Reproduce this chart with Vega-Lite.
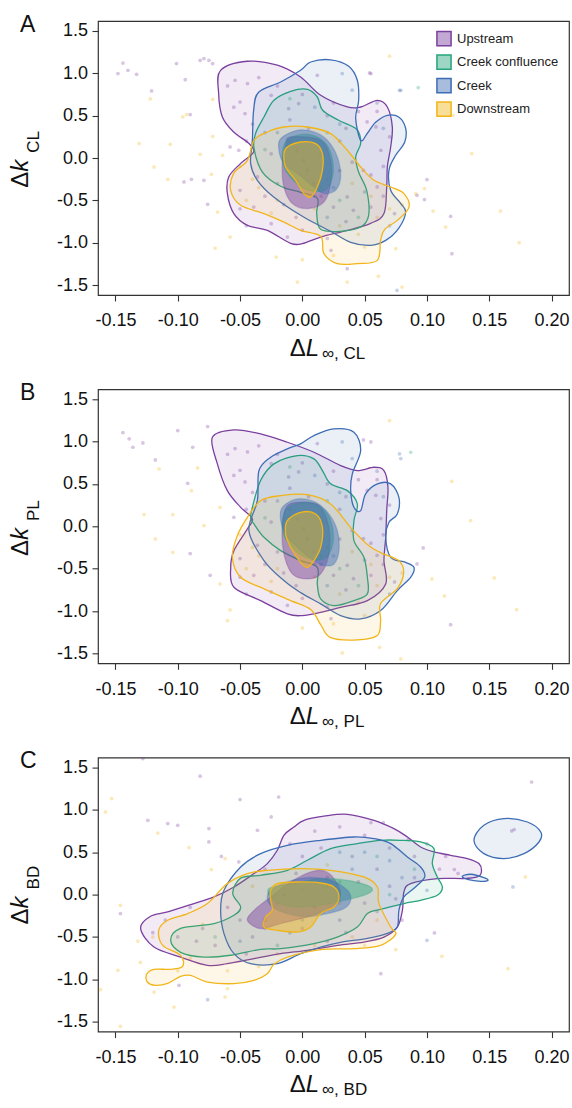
{
"$schema": "https://vega.github.io/schema/vega-lite/v6.json",
"background": "white",
"padding": {"left": 8, "top": 13, "right": 0, "bottom": 0},
"config": {
 "font": "Liberation Sans",
 "view": {"stroke": "#333", "strokeWidth": 1.2},
 "axis": {"grid": false, "domain": false, "tickColor": "#333", "tickWidth": 1.1, "tickSize": 6, "labelFontSize": 18, "labelColor": "#111", "labelFont": "Liberation Sans", "titleFont": "Liberation Sans", "titleColor": "#111", "titleFontWeight": "normal", "labelFlush": false, "labelOverlap": false},
 "axisX": {"labelPadding": 10.7},
 "axisY": {"labelPadding": 4.4},
 "title": {"fontSize": 23, "fontWeight": "normal", "anchor": "start", "frame": "group", "color": "#111", "font": "Liberation Sans"}
},
"datasets": {
"cA": [
{"s":"1Uo","g":"U","l":"o","x":-0.0656,"y":1.035},{"s":"1Uo","g":"U","l":"o","x":-0.0441,"y":1.142},{"s":"1Uo","g":"U","l":"o","x":-0.0201,"y":1.095},{"s":"1Uo","g":"U","l":"o","x":-0.0014,"y":0.956},{"s":"1Uo","g":"U","l":"o","x":0.0147,"y":0.74},{"s":"1Uo","g":"U","l":"o","x":0.0361,"y":0.602},{"s":"1Uo","g":"U","l":"o","x":0.0468,"y":0.602},{"s":"1Uo","g":"U","l":"o","x":0.0602,"y":0.681},{"s":"1Uo","g":"U","l":"o","x":0.0682,"y":0.602},{"s":"1Uo","g":"U","l":"o","x":0.0722,"y":0.366},{"s":"1Uo","g":"U","l":"o","x":0.0709,"y":0.13},{"s":"1Uo","g":"U","l":"o","x":0.0682,"y":-0.106},{"s":"1Uo","g":"U","l":"o","x":0.0677,"y":-0.342},{"s":"1Uo","g":"U","l":"o","x":0.0655,"y":-0.656},{"s":"1Uo","g":"U","l":"o","x":0.0548,"y":-0.771},{"s":"1Uo","g":"U","l":"o","x":0.0361,"y":-0.854},{"s":"1Uo","g":"U","l":"o","x":0.0147,"y":-0.933},{"s":"1Uo","g":"U","l":"o","x":0.0,"y":-1.011},{"s":"1Uo","g":"U","l":"o","x":-0.0094,"y":-1.007},{"s":"1Uo","g":"U","l":"o","x":-0.0281,"y":-0.854},{"s":"1Uo","g":"U","l":"o","x":-0.0441,"y":-0.795},{"s":"1Uo","g":"U","l":"o","x":-0.0551,"y":-0.653},{"s":"1Uo","g":"U","l":"o","x":-0.0602,"y":-0.417},{"s":"1Uo","g":"U","l":"o","x":-0.0591,"y":-0.224},{"s":"1Uo","g":"U","l":"o","x":-0.0495,"y":-0.063},{"s":"1Uo","g":"U","l":"o","x":-0.0391,"y":0.071},{"s":"1Uo","g":"U","l":"o","x":-0.0431,"y":0.174},{"s":"1Uo","g":"U","l":"o","x":-0.0551,"y":0.307},{"s":"1Uo","g":"U","l":"o","x":-0.0642,"y":0.484},{"s":"1Uo","g":"U","l":"o","x":-0.0672,"y":0.764},
{"s":"2Co","g":"CC","l":"o","x":-0.0388,"y":0.115},{"s":"2Co","g":"CC","l":"o","x":-0.0375,"y":0.292},{"s":"2Co","g":"CC","l":"o","x":-0.0308,"y":0.484},{"s":"2Co","g":"CC","l":"o","x":-0.0228,"y":0.681},{"s":"2Co","g":"CC","l":"o","x":-0.0094,"y":0.787},{"s":"2Co","g":"CC","l":"o","x":0.004,"y":0.811},{"s":"2Co","g":"CC","l":"o","x":0.012,"y":0.72},{"s":"2Co","g":"CC","l":"o","x":0.0163,"y":0.563},{"s":"2Co","g":"CC","l":"o","x":0.0291,"y":0.445},{"s":"2Co","g":"CC","l":"o","x":0.0436,"y":0.339},{"s":"2Co","g":"CC","l":"o","x":0.0468,"y":0.174},{"s":"2Co","g":"CC","l":"o","x":0.0428,"y":0.012},{"s":"2Co","g":"CC","l":"o","x":0.0452,"y":-0.169},{"s":"2Co","g":"CC","l":"o","x":0.0516,"y":-0.381},{"s":"2Co","g":"CC","l":"o","x":0.0532,"y":-0.677},{"s":"2Co","g":"CC","l":"o","x":0.0468,"y":-0.815},{"s":"2Co","g":"CC","l":"o","x":0.0307,"y":-0.865},{"s":"2Co","g":"CC","l":"o","x":0.0147,"y":-0.842},{"s":"2Co","g":"CC","l":"o","x":0.0115,"y":-0.653},{"s":"2Co","g":"CC","l":"o","x":0.012,"y":-0.476},{"s":"2Co","g":"CC","l":"o","x":-0.0014,"y":-0.405},{"s":"2Co","g":"CC","l":"o","x":-0.0174,"y":-0.334},{"s":"2Co","g":"CC","l":"o","x":-0.0319,"y":-0.169},
{"s":"3Bo","g":"C","l":"o","x":-0.0014,"y":1.035},{"s":"3Bo","g":"C","l":"o","x":0.0067,"y":1.133},{"s":"3Bo","g":"C","l":"o","x":0.0227,"y":1.159},{"s":"3Bo","g":"C","l":"o","x":0.0372,"y":1.083},{"s":"3Bo","g":"C","l":"o","x":0.0441,"y":0.917},{"s":"3Bo","g":"C","l":"o","x":0.0452,"y":0.681},{"s":"3Bo","g":"C","l":"o","x":0.0428,"y":0.469},{"s":"3Bo","g":"C","l":"o","x":0.0468,"y":0.209},{"s":"3Bo","g":"C","l":"o","x":0.0522,"y":0.292},{"s":"3Bo","g":"C","l":"o","x":0.0588,"y":0.421},{"s":"3Bo","g":"C","l":"o","x":0.0682,"y":0.504},{"s":"3Bo","g":"C","l":"o","x":0.0773,"y":0.484},{"s":"3Bo","g":"C","l":"o","x":0.0829,"y":0.351},{"s":"3Bo","g":"C","l":"o","x":0.0821,"y":0.185},{"s":"3Bo","g":"C","l":"o","x":0.0749,"y":0.032},{"s":"3Bo","g":"C","l":"o","x":0.0695,"y":-0.145},{"s":"3Bo","g":"C","l":"o","x":0.0709,"y":-0.381},{"s":"3Bo","g":"C","l":"o","x":0.0789,"y":-0.535},{"s":"3Bo","g":"C","l":"o","x":0.0829,"y":-0.641},{"s":"3Bo","g":"C","l":"o","x":0.0773,"y":-0.83},{"s":"3Bo","g":"C","l":"o","x":0.0669,"y":-0.972},{"s":"3Bo","g":"C","l":"o","x":0.0548,"y":-1.031},{"s":"3Bo","g":"C","l":"o","x":0.0388,"y":-0.995},{"s":"3Bo","g":"C","l":"o","x":0.0227,"y":-0.865},{"s":"3Bo","g":"C","l":"o","x":0.001,"y":-0.697},{"s":"3Bo","g":"C","l":"o","x":-0.023,"y":-0.46},{"s":"3Bo","g":"C","l":"o","x":-0.0361,"y":-0.263},{"s":"3Bo","g":"C","l":"o","x":-0.0415,"y":-0.063},{"s":"3Bo","g":"C","l":"o","x":-0.0401,"y":0.209},{"s":"3Bo","g":"C","l":"o","x":-0.0391,"y":0.563},{"s":"3Bo","g":"C","l":"o","x":-0.0351,"y":0.776},{"s":"3Bo","g":"C","l":"o","x":-0.0174,"y":0.897},
{"s":"4Do","g":"D","l":"o","x":-0.0441,"y":-0.027},{"s":"4Do","g":"D","l":"o","x":-0.0551,"y":-0.181},{"s":"4Do","g":"D","l":"o","x":-0.0575,"y":-0.381},{"s":"4Do","g":"D","l":"o","x":-0.0495,"y":-0.558},{"s":"4Do","g":"D","l":"o","x":-0.0308,"y":-0.656},{"s":"4Do","g":"D","l":"o","x":-0.0148,"y":-0.756},{"s":"4Do","g":"D","l":"o","x":-0.0014,"y":-0.854},{"s":"4Do","g":"D","l":"o","x":0.0147,"y":-0.924},{"s":"4Do","g":"D","l":"o","x":0.0173,"y":-1.129},{"s":"4Do","g":"D","l":"o","x":0.0281,"y":-1.247},{"s":"4Do","g":"D","l":"o","x":0.0441,"y":-1.247},{"s":"4Do","g":"D","l":"o","x":0.0602,"y":-1.208},{"s":"4Do","g":"D","l":"o","x":0.0628,"y":-0.972},{"s":"4Do","g":"D","l":"o","x":0.0661,"y":-0.842},{"s":"4Do","g":"D","l":"o","x":0.0762,"y":-0.736},{"s":"4Do","g":"D","l":"o","x":0.0856,"y":-0.579},{"s":"4Do","g":"D","l":"o","x":0.0815,"y":-0.42},{"s":"4Do","g":"D","l":"o","x":0.0709,"y":-0.342},{"s":"4Do","g":"D","l":"o","x":0.0575,"y":-0.263},{"s":"4Do","g":"D","l":"o","x":0.0468,"y":-0.106},{"s":"4Do","g":"D","l":"o","x":0.0361,"y":0.091},{"s":"4Do","g":"D","l":"o","x":0.0227,"y":0.288},{"s":"4Do","g":"D","l":"o","x":0.004,"y":0.366},{"s":"4Do","g":"D","l":"o","x":-0.015,"y":0.366},{"s":"4Do","g":"D","l":"o","x":-0.0281,"y":0.307},{"s":"4Do","g":"D","l":"o","x":-0.0388,"y":0.209},
{"s":"5Ui","g":"U","l":"i","x":-0.0094,"y":0.248},{"s":"5Ui","g":"U","l":"i","x":0.0147,"y":0.209},{"s":"5Ui","g":"U","l":"i","x":0.0227,"y":-0.027},{"s":"5Ui","g":"U","l":"i","x":0.0227,"y":-0.302},{"s":"5Ui","g":"U","l":"i","x":0.0173,"y":-0.519},{"s":"5Ui","g":"U","l":"i","x":0.004,"y":-0.597},{"s":"5Ui","g":"U","l":"i","x":-0.008,"y":-0.538},{"s":"5Ui","g":"U","l":"i","x":-0.0148,"y":-0.342},{"s":"5Ui","g":"U","l":"i","x":-0.0161,"y":-0.066},{"s":"5Ui","g":"U","l":"i","x":-0.0134,"y":0.15},
{"s":"6Ci","g":"CC","l":"i","x":-0.013,"y":0.2},{"s":"6Ci","g":"CC","l":"i","x":0.005,"y":0.28},{"s":"6Ci","g":"CC","l":"i","x":0.02,"y":0.15},{"s":"6Ci","g":"CC","l":"i","x":0.025,"y":-0.15},{"s":"6Ci","g":"CC","l":"i","x":0.018,"y":-0.38},{"s":"6Ci","g":"CC","l":"i","x":0.0,"y":-0.35},{"s":"6Ci","g":"CC","l":"i","x":-0.015,"y":-0.1},
{"s":"7Bi","g":"C","l":"i","x":-0.0174,"y":0.229},{"s":"7Bi","g":"C","l":"i","x":-0.004,"y":0.327},{"s":"7Bi","g":"C","l":"i","x":0.0093,"y":0.307},{"s":"7Bi","g":"C","l":"i","x":0.0201,"y":0.209},{"s":"7Bi","g":"C","l":"i","x":0.0281,"y":0.012},{"s":"7Bi","g":"C","l":"i","x":0.0307,"y":-0.224},{"s":"7Bi","g":"C","l":"i","x":0.0267,"y":-0.381},{"s":"7Bi","g":"C","l":"i","x":0.0173,"y":-0.42},{"s":"7Bi","g":"C","l":"i","x":0.0093,"y":-0.342},{"s":"7Bi","g":"C","l":"i","x":-0.004,"y":-0.184},{"s":"7Bi","g":"C","l":"i","x":-0.0148,"y":-0.066},{"s":"7Bi","g":"C","l":"i","x":-0.0188,"y":0.091},
{"s":"8Di","g":"D","l":"i","x":-0.012,"y":0.13},{"s":"8Di","g":"D","l":"i","x":-0.0014,"y":0.189},{"s":"8Di","g":"D","l":"i","x":0.0107,"y":0.17},{"s":"8Di","g":"D","l":"i","x":0.0161,"y":0.052},{"s":"8Di","g":"D","l":"i","x":0.0161,"y":-0.145},{"s":"8Di","g":"D","l":"i","x":0.012,"y":-0.342},{"s":"8Di","g":"D","l":"i","x":0.0067,"y":-0.46},{"s":"8Di","g":"D","l":"i","x":0.0013,"y":-0.42},{"s":"8Di","g":"D","l":"i","x":-0.0054,"y":-0.263},{"s":"8Di","g":"D","l":"i","x":-0.0134,"y":-0.106},{"s":"8Di","g":"D","l":"i","x":-0.0148,"y":0.052}
],
"cB": [
{"s":"1Uo","g":"U","l":"o","x":-0.0722,"y":1.051},{"s":"1Uo","g":"U","l":"o","x":-0.0549,"y":1.138},{"s":"1Uo","g":"U","l":"o","x":-0.0335,"y":1.091},{"s":"1Uo","g":"U","l":"o","x":-0.012,"y":0.992},{"s":"1Uo","g":"U","l":"o","x":0.0093,"y":0.874},{"s":"1Uo","g":"U","l":"o","x":0.0307,"y":0.717},{"s":"1Uo","g":"U","l":"o","x":0.0441,"y":0.658},{"s":"1Uo","g":"U","l":"o","x":0.0575,"y":0.697},{"s":"1Uo","g":"U","l":"o","x":0.0655,"y":0.658},{"s":"1Uo","g":"U","l":"o","x":0.0687,"y":0.46},{"s":"1Uo","g":"U","l":"o","x":0.0677,"y":0.185},{"s":"1Uo","g":"U","l":"o","x":0.0669,"y":-0.13},{"s":"1Uo","g":"U","l":"o","x":0.0655,"y":-0.405},{"s":"1Uo","g":"U","l":"o","x":0.0669,"y":-0.68},{"s":"1Uo","g":"U","l":"o","x":0.0522,"y":-0.877},{"s":"1Uo","g":"U","l":"o","x":0.0307,"y":-0.956},{"s":"1Uo","g":"U","l":"o","x":0.0147,"y":-1.015},{"s":"1Uo","g":"U","l":"o","x":0.0,"y":-1.054},{"s":"1Uo","g":"U","l":"o","x":-0.012,"y":-1.034},{"s":"1Uo","g":"U","l":"o","x":-0.0335,"y":-0.877},{"s":"1Uo","g":"U","l":"o","x":-0.0549,"y":-0.72},{"s":"1Uo","g":"U","l":"o","x":-0.0575,"y":-0.484},{"s":"1Uo","g":"U","l":"o","x":-0.0549,"y":-0.287},{"s":"1Uo","g":"U","l":"o","x":-0.0441,"y":-0.031},{"s":"1Uo","g":"U","l":"o","x":-0.0401,"y":0.087},{"s":"1Uo","g":"U","l":"o","x":-0.0495,"y":0.224},{"s":"1Uo","g":"U","l":"o","x":-0.0602,"y":0.421},{"s":"1Uo","g":"U","l":"o","x":-0.0682,"y":0.737},
{"s":"2Co","g":"CC","l":"o","x":-0.0415,"y":0.106},{"s":"2Co","g":"CC","l":"o","x":-0.0401,"y":0.224},{"s":"2Co","g":"CC","l":"o","x":-0.0335,"y":0.54},{"s":"2Co","g":"CC","l":"o","x":-0.0228,"y":0.737},{"s":"2Co","g":"CC","l":"o","x":-0.004,"y":0.835},{"s":"2Co","g":"CC","l":"o","x":0.0093,"y":0.796},{"s":"2Co","g":"CC","l":"o","x":0.0161,"y":0.658},{"s":"2Co","g":"CC","l":"o","x":0.0227,"y":0.501},{"s":"2Co","g":"CC","l":"o","x":0.0361,"y":0.421},{"s":"2Co","g":"CC","l":"o","x":0.0441,"y":0.264},{"s":"2Co","g":"CC","l":"o","x":0.0414,"y":0.067},{"s":"2Co","g":"CC","l":"o","x":0.0414,"y":-0.169},{"s":"2Co","g":"CC","l":"o","x":0.0494,"y":-0.366},{"s":"2Co","g":"CC","l":"o","x":0.0522,"y":-0.602},{"s":"2Co","g":"CC","l":"o","x":0.0522,"y":-0.798},{"s":"2Co","g":"CC","l":"o","x":0.0414,"y":-0.877},{"s":"2Co","g":"CC","l":"o","x":0.0254,"y":-0.936},{"s":"2Co","g":"CC","l":"o","x":0.0147,"y":-0.857},{"s":"2Co","g":"CC","l":"o","x":0.012,"y":-0.68},{"s":"2Co","g":"CC","l":"o","x":0.012,"y":-0.484},{"s":"2Co","g":"CC","l":"o","x":-0.0014,"y":-0.405},{"s":"2Co","g":"CC","l":"o","x":-0.0174,"y":-0.287},{"s":"2Co","g":"CC","l":"o","x":-0.0308,"y":-0.13},{"s":"2Co","g":"CC","l":"o","x":-0.0388,"y":0.028},
{"s":"3Bo","g":"C","l":"o","x":-0.0014,"y":0.973},{"s":"3Bo","g":"C","l":"o","x":0.0093,"y":1.071},{"s":"3Bo","g":"C","l":"o","x":0.0254,"y":1.15},{"s":"3Bo","g":"C","l":"o","x":0.0414,"y":1.11},{"s":"3Bo","g":"C","l":"o","x":0.0468,"y":0.894},{"s":"3Bo","g":"C","l":"o","x":0.0401,"y":0.619},{"s":"3Bo","g":"C","l":"o","x":0.0388,"y":0.421},{"s":"3Bo","g":"C","l":"o","x":0.0414,"y":0.224},{"s":"3Bo","g":"C","l":"o","x":0.0468,"y":0.185},{"s":"3Bo","g":"C","l":"o","x":0.0508,"y":0.383},{"s":"3Bo","g":"C","l":"o","x":0.0602,"y":0.501},{"s":"3Bo","g":"C","l":"o","x":0.0709,"y":0.501},{"s":"3Bo","g":"C","l":"o","x":0.0775,"y":0.342},{"s":"3Bo","g":"C","l":"o","x":0.0762,"y":0.146},{"s":"3Bo","g":"C","l":"o","x":0.0695,"y":0.047},{"s":"3Bo","g":"C","l":"o","x":0.0669,"y":-0.13},{"s":"3Bo","g":"C","l":"o","x":0.0709,"y":-0.366},{"s":"3Bo","g":"C","l":"o","x":0.0829,"y":-0.425},{"s":"3Bo","g":"C","l":"o","x":0.0896,"y":-0.484},{"s":"3Bo","g":"C","l":"o","x":0.0869,"y":-0.602},{"s":"3Bo","g":"C","l":"o","x":0.0762,"y":-0.759},{"s":"3Bo","g":"C","l":"o","x":0.0628,"y":-0.995},{"s":"3Bo","g":"C","l":"o","x":0.0468,"y":-1.093},{"s":"3Bo","g":"C","l":"o","x":0.0307,"y":-1.054},{"s":"3Bo","g":"C","l":"o","x":0.0147,"y":-0.916},{"s":"3Bo","g":"C","l":"o","x":-0.0014,"y":-0.783},{"s":"3Bo","g":"C","l":"o","x":-0.0148,"y":-0.641},{"s":"3Bo","g":"C","l":"o","x":-0.0308,"y":-0.405},{"s":"3Bo","g":"C","l":"o","x":-0.0429,"y":-0.051},{"s":"3Bo","g":"C","l":"o","x":-0.0361,"y":0.303},{"s":"3Bo","g":"C","l":"o","x":-0.0348,"y":0.658},{"s":"3Bo","g":"C","l":"o","x":-0.0254,"y":0.815},{"s":"3Bo","g":"C","l":"o","x":-0.012,"y":0.914},
{"s":"4Do","g":"D","l":"o","x":-0.0441,"y":0.106},{"s":"4Do","g":"D","l":"o","x":-0.0522,"y":-0.11},{"s":"4Do","g":"D","l":"o","x":-0.0562,"y":-0.366},{"s":"4Do","g":"D","l":"o","x":-0.0495,"y":-0.602},{"s":"4Do","g":"D","l":"o","x":-0.0311,"y":-0.736},{"s":"4Do","g":"D","l":"o","x":-0.0094,"y":-0.877},{"s":"4Do","g":"D","l":"o","x":0.0067,"y":-0.983},{"s":"4Do","g":"D","l":"o","x":0.0147,"y":-1.161},{"s":"4Do","g":"D","l":"o","x":0.0227,"y":-1.314},{"s":"4Do","g":"D","l":"o","x":0.0441,"y":-1.341},{"s":"4Do","g":"D","l":"o","x":0.0602,"y":-1.29},{"s":"4Do","g":"D","l":"o","x":0.0628,"y":-1.113},{"s":"4Do","g":"D","l":"o","x":0.0628,"y":-0.912},{"s":"4Do","g":"D","l":"o","x":0.0762,"y":-0.736},{"s":"4Do","g":"D","l":"o","x":0.0813,"y":-0.547},{"s":"4Do","g":"D","l":"o","x":0.0773,"y":-0.405},{"s":"4Do","g":"D","l":"o","x":0.0628,"y":-0.31},{"s":"4Do","g":"D","l":"o","x":0.0532,"y":-0.228},{"s":"4Do","g":"D","l":"o","x":0.0388,"y":-0.015},{"s":"4Do","g":"D","l":"o","x":0.0227,"y":0.264},{"s":"4Do","g":"D","l":"o","x":0.004,"y":0.374},{"s":"4Do","g":"D","l":"o","x":-0.0174,"y":0.362},{"s":"4Do","g":"D","l":"o","x":-0.0335,"y":0.303},
{"s":"5Ui","g":"U","l":"i","x":-0.012,"y":0.244},{"s":"5Ui","g":"U","l":"i","x":0.004,"y":0.283},{"s":"5Ui","g":"U","l":"i","x":0.0147,"y":0.224},{"s":"5Ui","g":"U","l":"i","x":0.0213,"y":-0.012},{"s":"5Ui","g":"U","l":"i","x":0.0213,"y":-0.326},{"s":"5Ui","g":"U","l":"i","x":0.0147,"y":-0.562},{"s":"5Ui","g":"U","l":"i","x":0.004,"y":-0.621},{"s":"5Ui","g":"U","l":"i","x":-0.008,"y":-0.562},{"s":"5Ui","g":"U","l":"i","x":-0.0148,"y":-0.326},{"s":"5Ui","g":"U","l":"i","x":-0.0161,"y":-0.012},
{"s":"6Ci","g":"CC","l":"i","x":-0.013,"y":0.2},{"s":"6Ci","g":"CC","l":"i","x":0.005,"y":0.28},{"s":"6Ci","g":"CC","l":"i","x":0.02,"y":0.15},{"s":"6Ci","g":"CC","l":"i","x":0.025,"y":-0.15},{"s":"6Ci","g":"CC","l":"i","x":0.018,"y":-0.38},{"s":"6Ci","g":"CC","l":"i","x":0.0,"y":-0.35},{"s":"6Ci","g":"CC","l":"i","x":-0.015,"y":-0.1},
{"s":"7Bi","g":"C","l":"i","x":-0.0161,"y":0.224},{"s":"7Bi","g":"C","l":"i","x":-0.004,"y":0.323},{"s":"7Bi","g":"C","l":"i","x":0.0107,"y":0.283},{"s":"7Bi","g":"C","l":"i","x":0.0213,"y":0.146},{"s":"7Bi","g":"C","l":"i","x":0.0281,"y":-0.051},{"s":"7Bi","g":"C","l":"i","x":0.0294,"y":-0.287},{"s":"7Bi","g":"C","l":"i","x":0.0254,"y":-0.444},{"s":"7Bi","g":"C","l":"i","x":0.0173,"y":-0.464},{"s":"7Bi","g":"C","l":"i","x":0.0093,"y":-0.405},{"s":"7Bi","g":"C","l":"i","x":-0.004,"y":-0.248},{"s":"7Bi","g":"C","l":"i","x":-0.0134,"y":-0.09},{"s":"7Bi","g":"C","l":"i","x":-0.0174,"y":0.067},
{"s":"8Di","g":"D","l":"i","x":-0.012,"y":0.067},{"s":"8Di","g":"D","l":"i","x":-0.0014,"y":0.165},{"s":"8Di","g":"D","l":"i","x":0.0107,"y":0.146},{"s":"8Di","g":"D","l":"i","x":0.0161,"y":-0.012},{"s":"8Di","g":"D","l":"i","x":0.0147,"y":-0.248},{"s":"8Di","g":"D","l":"i","x":0.0093,"y":-0.405},{"s":"8Di","g":"D","l":"i","x":0.004,"y":-0.484},{"s":"8Di","g":"D","l":"i","x":-0.0014,"y":-0.425},{"s":"8Di","g":"D","l":"i","x":-0.0094,"y":-0.248},{"s":"8Di","g":"D","l":"i","x":-0.0134,"y":-0.09}
],
"cC": [
{"s":"1Uo","g":"U","l":"o","x":-0.1298,"y":-0.398},{"s":"1Uo","g":"U","l":"o","x":-0.1218,"y":-0.256},{"s":"1Uo","g":"U","l":"o","x":-0.1081,"y":-0.205},{"s":"1Uo","g":"U","l":"o","x":-0.087,"y":-0.106},{"s":"1Uo","g":"U","l":"o","x":-0.0709,"y":-0.028},{"s":"1Uo","g":"U","l":"o","x":-0.0549,"y":0.09},{"s":"1Uo","g":"U","l":"o","x":-0.0388,"y":0.248},{"s":"1Uo","g":"U","l":"o","x":-0.0281,"y":0.366},{"s":"1Uo","g":"U","l":"o","x":-0.0201,"y":0.523},{"s":"1Uo","g":"U","l":"o","x":-0.0148,"y":0.7},{"s":"1Uo","g":"U","l":"o","x":-0.0067,"y":0.798},{"s":"1Uo","g":"U","l":"o","x":0.0013,"y":0.877},{"s":"1Uo","g":"U","l":"o","x":0.0173,"y":0.925},{"s":"1Uo","g":"U","l":"o","x":0.0361,"y":0.948},{"s":"1Uo","g":"U","l":"o","x":0.0575,"y":0.877},{"s":"1Uo","g":"U","l":"o","x":0.0735,"y":0.779},{"s":"1Uo","g":"U","l":"o","x":0.0843,"y":0.68},{"s":"1Uo","g":"U","l":"o","x":0.0949,"y":0.562},{"s":"1Uo","g":"U","l":"o","x":0.1056,"y":0.503},{"s":"1Uo","g":"U","l":"o","x":0.119,"y":0.464},{"s":"1Uo","g":"U","l":"o","x":0.1324,"y":0.425},{"s":"1Uo","g":"U","l":"o","x":0.1417,"y":0.366},{"s":"1Uo","g":"U","l":"o","x":0.1437,"y":0.267},{"s":"1Uo","g":"U","l":"o","x":0.1404,"y":0.208},{"s":"1Uo","g":"U","l":"o","x":0.1297,"y":0.189},{"s":"1Uo","g":"U","l":"o","x":0.1083,"y":0.189},{"s":"1Uo","g":"U","l":"o","x":0.0869,"y":0.13},{"s":"1Uo","g":"U","l":"o","x":0.0815,"y":0.031},{"s":"1Uo","g":"U","l":"o","x":0.0803,"y":-0.185},{"s":"1Uo","g":"U","l":"o","x":0.0762,"y":-0.383},{"s":"1Uo","g":"U","l":"o","x":0.0655,"y":-0.501},{"s":"1Uo","g":"U","l":"o","x":0.0494,"y":-0.56},{"s":"1Uo","g":"U","l":"o","x":0.0281,"y":-0.599},{"s":"1Uo","g":"U","l":"o","x":0.004,"y":-0.658},{"s":"1Uo","g":"U","l":"o","x":-0.0174,"y":-0.697},{"s":"1Uo","g":"U","l":"o","x":-0.0388,"y":-0.756},{"s":"1Uo","g":"U","l":"o","x":-0.0602,"y":-0.815},{"s":"1Uo","g":"U","l":"o","x":-0.0762,"y":-0.835},{"s":"1Uo","g":"U","l":"o","x":-0.0977,"y":-0.737},{"s":"1Uo","g":"U","l":"o","x":-0.1191,"y":-0.619},
{"s":"2Co","g":"CC","l":"o","x":-0.1057,"y":-0.54},{"s":"2Co","g":"CC","l":"o","x":-0.0977,"y":-0.398},{"s":"2Co","g":"CC","l":"o","x":-0.0709,"y":-0.342},{"s":"2Co","g":"CC","l":"o","x":-0.0549,"y":-0.244},{"s":"2Co","g":"CC","l":"o","x":-0.0495,"y":-0.146},{"s":"2Co","g":"CC","l":"o","x":-0.0559,"y":0.017},{"s":"2Co","g":"CC","l":"o","x":-0.0495,"y":0.194},{"s":"2Co","g":"CC","l":"o","x":-0.0335,"y":0.228},{"s":"2Co","g":"CC","l":"o","x":-0.012,"y":0.287},{"s":"2Co","g":"CC","l":"o","x":0.004,"y":0.405},{"s":"2Co","g":"CC","l":"o","x":0.0227,"y":0.543},{"s":"2Co","g":"CC","l":"o","x":0.0441,"y":0.602},{"s":"2Co","g":"CC","l":"o","x":0.0628,"y":0.641},{"s":"2Co","g":"CC","l":"o","x":0.0789,"y":0.641},{"s":"2Co","g":"CC","l":"o","x":0.0949,"y":0.621},{"s":"2Co","g":"CC","l":"o","x":0.1056,"y":0.543},{"s":"2Co","g":"CC","l":"o","x":0.1043,"y":0.366},{"s":"2Co","g":"CC","l":"o","x":0.1083,"y":0.208},{"s":"2Co","g":"CC","l":"o","x":0.1124,"y":0.09},{"s":"2Co","g":"CC","l":"o","x":0.1083,"y":-0.008},{"s":"2Co","g":"CC","l":"o","x":0.0949,"y":-0.067},{"s":"2Co","g":"CC","l":"o","x":0.0815,"y":-0.106},{"s":"2Co","g":"CC","l":"o","x":0.0628,"y":-0.174},{"s":"2Co","g":"CC","l":"o","x":0.0522,"y":-0.224},{"s":"2Co","g":"CC","l":"o","x":0.0441,"y":-0.383},{"s":"2Co","g":"CC","l":"o","x":0.0281,"y":-0.501},{"s":"2Co","g":"CC","l":"o","x":0.0093,"y":-0.579},{"s":"2Co","g":"CC","l":"o","x":-0.0174,"y":-0.638},{"s":"2Co","g":"CC","l":"o","x":-0.0335,"y":-0.646},{"s":"2Co","g":"CC","l":"o","x":-0.0575,"y":-0.716},{"s":"2Co","g":"CC","l":"o","x":-0.079,"y":-0.737},{"s":"2Co","g":"CC","l":"o","x":-0.0977,"y":-0.681},
{"s":"3Bo","g":"C","l":"o","x":-0.0629,"y":0.051},{"s":"3Bo","g":"C","l":"o","x":-0.0495,"y":0.326},{"s":"3Bo","g":"C","l":"o","x":-0.0335,"y":0.484},{"s":"3Bo","g":"C","l":"o","x":-0.012,"y":0.582},{"s":"3Bo","g":"C","l":"o","x":0.0147,"y":0.641},{"s":"3Bo","g":"C","l":"o","x":0.0414,"y":0.68},{"s":"3Bo","g":"C","l":"o","x":0.0575,"y":0.661},{"s":"3Bo","g":"C","l":"o","x":0.0709,"y":0.602},{"s":"3Bo","g":"C","l":"o","x":0.0843,"y":0.444},{"s":"3Bo","g":"C","l":"o","x":0.0949,"y":0.326},{"s":"3Bo","g":"C","l":"o","x":0.0982,"y":0.208},{"s":"3Bo","g":"C","l":"o","x":0.0896,"y":0.074},{"s":"3Bo","g":"C","l":"o","x":0.0815,"y":-0.028},{"s":"3Bo","g":"C","l":"o","x":0.0775,"y":-0.185},{"s":"3Bo","g":"C","l":"o","x":0.0762,"y":-0.383},{"s":"3Bo","g":"C","l":"o","x":0.0682,"y":-0.457},{"s":"3Bo","g":"C","l":"o","x":0.0522,"y":-0.516},{"s":"3Bo","g":"C","l":"o","x":0.0307,"y":-0.563},{"s":"3Bo","g":"C","l":"o","x":0.0147,"y":-0.619},{"s":"3Bo","g":"C","l":"o","x":-0.0014,"y":-0.697},{"s":"3Bo","g":"C","l":"o","x":-0.0201,"y":-0.815},{"s":"3Bo","g":"C","l":"o","x":-0.0415,"y":-0.815},{"s":"3Bo","g":"C","l":"o","x":-0.0549,"y":-0.697},{"s":"3Bo","g":"C","l":"o","x":-0.0629,"y":-0.46},{"s":"3Bo","g":"C","l":"o","x":-0.0656,"y":-0.185},
{"s":"3Bp","g":"C","l":"o","x":0.1377,"y":0.641},{"s":"3Bp","g":"C","l":"o","x":0.1457,"y":0.818},{"s":"3Bp","g":"C","l":"o","x":0.1618,"y":0.897},{"s":"3Bp","g":"C","l":"o","x":0.1806,"y":0.857},{"s":"3Bp","g":"C","l":"o","x":0.1913,"y":0.739},{"s":"3Bp","g":"C","l":"o","x":0.1899,"y":0.621},{"s":"3Bp","g":"C","l":"o","x":0.1779,"y":0.484},{"s":"3Bp","g":"C","l":"o","x":0.1618,"y":0.425},{"s":"3Bp","g":"C","l":"o","x":0.1457,"y":0.484},
{"s":"3Bq","g":"C","l":"o","x":0.1284,"y":0.216},{"s":"3Bq","g":"C","l":"o","x":0.1351,"y":0.24},{"s":"3Bq","g":"C","l":"o","x":0.1457,"y":0.201},{"s":"3Bq","g":"C","l":"o","x":0.149,"y":0.169},{"s":"3Bq","g":"C","l":"o","x":0.1431,"y":0.157},{"s":"3Bq","g":"C","l":"o","x":0.1324,"y":0.181},
{"s":"4Do","g":"D","l":"o","x":-0.1153,"y":-0.421},{"s":"4Do","g":"D","l":"o","x":-0.1081,"y":-0.303},{"s":"4Do","g":"D","l":"o","x":-0.0921,"y":-0.224},{"s":"4Do","g":"D","l":"o","x":-0.0762,"y":-0.106},{"s":"4Do","g":"D","l":"o","x":-0.0602,"y":0.13},{"s":"4Do","g":"D","l":"o","x":-0.0441,"y":0.248},{"s":"4Do","g":"D","l":"o","x":-0.0281,"y":0.287},{"s":"4Do","g":"D","l":"o","x":-0.0014,"y":0.307},{"s":"4Do","g":"D","l":"o","x":0.0227,"y":0.287},{"s":"4Do","g":"D","l":"o","x":0.0494,"y":0.208},{"s":"4Do","g":"D","l":"o","x":0.0602,"y":0.09},{"s":"4Do","g":"D","l":"o","x":0.0615,"y":-0.106},{"s":"4Do","g":"D","l":"o","x":0.0709,"y":-0.383},{"s":"4Do","g":"D","l":"o","x":0.0749,"y":-0.469},{"s":"4Do","g":"D","l":"o","x":0.0628,"y":-0.599},{"s":"4Do","g":"D","l":"o","x":0.0414,"y":-0.638},{"s":"4Do","g":"D","l":"o","x":0.0147,"y":-0.649},{"s":"4Do","g":"D","l":"o","x":-0.012,"y":-0.737},{"s":"4Do","g":"D","l":"o","x":-0.0228,"y":-0.823},{"s":"4Do","g":"D","l":"o","x":-0.0281,"y":-0.933},{"s":"4Do","g":"D","l":"o","x":-0.0388,"y":-1.012},{"s":"4Do","g":"D","l":"o","x":-0.0549,"y":-1.051},{"s":"4Do","g":"D","l":"o","x":-0.0762,"y":-1.032},{"s":"4Do","g":"D","l":"o","x":-0.0896,"y":-0.953},{"s":"4Do","g":"D","l":"o","x":-0.0977,"y":-0.965},{"s":"4Do","g":"D","l":"o","x":-0.1081,"y":-1.048},{"s":"4Do","g":"D","l":"o","x":-0.1177,"y":-1.072},{"s":"4Do","g":"D","l":"o","x":-0.1244,"y":-1.032},{"s":"4Do","g":"D","l":"o","x":-0.125,"y":-0.941},{"s":"4Do","g":"D","l":"o","x":-0.1193,"y":-0.882},{"s":"4Do","g":"D","l":"o","x":-0.1057,"y":-0.882},{"s":"4Do","g":"D","l":"o","x":-0.0961,"y":-0.847},{"s":"4Do","g":"D","l":"o","x":-0.0977,"y":-0.717},{"s":"4Do","g":"D","l":"o","x":-0.1121,"y":-0.599},
{"s":"5Ui","g":"U","l":"i","x":-0.0441,"y":-0.305},{"s":"5Ui","g":"U","l":"i","x":-0.0388,"y":-0.186},{"s":"5Ui","g":"U","l":"i","x":-0.0254,"y":-0.028},{"s":"5Ui","g":"U","l":"i","x":-0.0094,"y":0.149},{"s":"5Ui","g":"U","l":"i","x":0.0067,"y":0.267},{"s":"5Ui","g":"U","l":"i","x":0.0173,"y":0.279},{"s":"5Ui","g":"U","l":"i","x":0.0254,"y":0.189},{"s":"5Ui","g":"U","l":"i","x":0.0307,"y":0.012},{"s":"5Ui","g":"U","l":"i","x":0.0254,"y":-0.146},{"s":"5Ui","g":"U","l":"i","x":0.004,"y":-0.264},{"s":"5Ui","g":"U","l":"i","x":-0.0174,"y":-0.342},{"s":"5Ui","g":"U","l":"i","x":-0.0335,"y":-0.401},
{"s":"6Ci","g":"CC","l":"i","x":-0.0268,"y":0.071},{"s":"6Ci","g":"CC","l":"i","x":-0.0067,"y":0.13},{"s":"6Ci","g":"CC","l":"i","x":0.0147,"y":0.189},{"s":"6Ci","g":"CC","l":"i","x":0.0361,"y":0.169},{"s":"6Ci","g":"CC","l":"i","x":0.0522,"y":0.11},{"s":"6Ci","g":"CC","l":"i","x":0.0562,"y":0.051},{"s":"6Ci","g":"CC","l":"i","x":0.0494,"y":-0.008},{"s":"6Ci","g":"CC","l":"i","x":0.0334,"y":-0.068},{"s":"6Ci","g":"CC","l":"i","x":0.0147,"y":-0.127},{"s":"6Ci","g":"CC","l":"i","x":-0.0067,"y":-0.146},{"s":"6Ci","g":"CC","l":"i","x":-0.0228,"y":-0.068},
{"s":"7Bi","g":"C","l":"i","x":-0.0254,"y":0.051},{"s":"7Bi","g":"C","l":"i","x":-0.012,"y":0.149},{"s":"7Bi","g":"C","l":"i","x":0.004,"y":0.201},{"s":"7Bi","g":"C","l":"i","x":0.0227,"y":0.169},{"s":"7Bi","g":"C","l":"i","x":0.0361,"y":0.051},{"s":"7Bi","g":"C","l":"i","x":0.0388,"y":-0.068},{"s":"7Bi","g":"C","l":"i","x":0.0334,"y":-0.165},{"s":"7Bi","g":"C","l":"i","x":0.0201,"y":-0.224},{"s":"7Bi","g":"C","l":"i","x":0.004,"y":-0.264},{"s":"7Bi","g":"C","l":"i","x":-0.012,"y":-0.224},{"s":"7Bi","g":"C","l":"i","x":-0.0241,"y":-0.146},{"s":"7Bi","g":"C","l":"i","x":-0.0281,"y":-0.047},
{"s":"8Di","g":"D","l":"i","x":-0.0254,"y":0.051},{"s":"8Di","g":"D","l":"i","x":-0.0201,"y":0.13},{"s":"8Di","g":"D","l":"i","x":-0.004,"y":0.149},{"s":"8Di","g":"D","l":"i","x":0.0147,"y":0.137},{"s":"8Di","g":"D","l":"i","x":0.0254,"y":0.09},{"s":"8Di","g":"D","l":"i","x":0.0294,"y":-0.028},{"s":"8Di","g":"D","l":"i","x":0.0254,"y":-0.146},{"s":"8Di","g":"D","l":"i","x":0.0147,"y":-0.224},{"s":"8Di","g":"D","l":"i","x":0.0067,"y":-0.383},{"s":"8Di","g":"D","l":"i","x":-0.004,"y":-0.442},{"s":"8Di","g":"D","l":"i","x":-0.0201,"y":-0.421},{"s":"8Di","g":"D","l":"i","x":-0.0308,"y":-0.383},{"s":"8Di","g":"D","l":"i","x":-0.0295,"y":-0.264},{"s":"8Di","g":"D","l":"i","x":-0.0241,"y":-0.185},{"s":"8Di","g":"D","l":"i","x":-0.0254,"y":-0.067}
],
"pA": [
{"q":"U","x":-0.148,"y":0.996},{"q":"U","x":-0.144,"y":1.12},{"q":"U","x":-0.14,"y":1.035},{"q":"U","x":-0.133,"y":0.988},{"q":"U","x":-0.101,"y":1.114},{"q":"U","x":-0.094,"y":0.925},{"q":"U","x":-0.082,"y":1.153},{"q":"U","x":-0.079,"y":1.173},{"q":"U","x":-0.075,"y":1.153},{"q":"U","x":-0.072,"y":1.114},{"q":"U","x":-0.121,"y":0.791},{"q":"U","x":-0.09,"y":0.512},{"q":"U","x":-0.095,"y":-0.283},{"q":"U","x":-0.089,"y":-0.251},{"q":"U","x":-0.079,"y":-0.263},{"q":"U","x":-0.076,"y":-0.547},{"q":"U","x":-0.058,"y":0.13},{"q":"U","x":-0.051,"y":0.091},{"q":"U","x":0.1,"y":-0.255},{"q":"U","x":0.098,"y":-0.491},{"q":"U","x":0.092,"y":-0.44},{"q":"U","x":0.119,"y":-0.688},{"q":"U","x":0.12,"y":-1.129},{"q":"U","x":0.054,"y":1.004},{"q":"U","x":0.036,"y":-1.306},
{"q":"D","x":-0.122,"y":0.697},{"q":"D","x":-0.131,"y":0.17},{"q":"D","x":-0.119,"y":-0.106},{"q":"D","x":-0.106,"y":0.162},{"q":"D","x":-0.108,"y":-0.251},{"q":"D","x":-0.096,"y":0.484},{"q":"D","x":-0.093,"y":0.512},{"q":"D","x":-0.072,"y":0.693},{"q":"D","x":-0.072,"y":0.256},{"q":"D","x":-0.082,"y":0.044},{"q":"D","x":-0.073,"y":-0.192},{"q":"D","x":-0.068,"y":-0.638},{"q":"D","x":-0.07,"y":-1.063},{"q":"D","x":-0.058,"y":-0.933},{"q":"D","x":-0.064,"y":0.032},{"q":"D","x":-0.021,"y":-1.169},{"q":"D","x":-0.004,"y":-1.464},{"q":"D","x":0.07,"y":1.201},{"q":"D","x":0.121,"y":0.504},{"q":"D","x":0.136,"y":0.052},{"q":"D","x":0.159,"y":-0.626},{"q":"D","x":0.174,"y":-0.999},{"q":"D","x":0.105,"y":-0.626},{"q":"D","x":0.115,"y":-0.815},{"q":"D","x":0.098,"y":-0.361},{"q":"D","x":0.091,"y":-0.42},{"q":"D","x":0.075,"y":-1.07},{"q":"D","x":0.061,"y":-1.397},{"q":"D","x":0.08,"y":-1.523},{"q":"D","x":0.036,"y":-1.464},
{"q":"C","x":0.078,"y":0.799},{"q":"C","x":0.076,"y":-1.562},{"q":"CC","x":0.093,"y":0.831},
{"q":"U","x":-0.054,"y":0.917},{"q":"U","x":-0.044,"y":0.878},{"q":"U","x":-0.05,"y":0.661},{"q":"U","x":-0.046,"y":0.524},{"q":"U","x":-0.025,"y":0.74},{"q":"U","x":-0.011,"y":0.583},{"q":"U","x":-0.003,"y":0.642},{"q":"U","x":0.012,"y":0.976},{"q":"U","x":0.055,"y":0.996},{"q":"U","x":0.052,"y":0.425},{"q":"U","x":0.059,"y":0.366},{"q":"U","x":0.063,"y":0.091},{"q":"U","x":0.049,"y":-0.145},{"q":"U","x":0.06,"y":-0.342},{"q":"U","x":0.036,"y":-0.46},{"q":"U","x":0.025,"y":-0.579},{"q":"U","x":0.041,"y":-0.618},{"q":"U","x":0.055,"y":-0.579},{"q":"U","x":0.074,"y":-0.656},{"q":"U","x":-0.025,"y":-0.775},{"q":"U","x":-0.039,"y":-0.579},{"q":"U","x":-0.05,"y":-0.381},{"q":"U","x":-0.036,"y":-0.224},{"q":"U","x":-0.02,"y":-0.302},{"q":"U","x":-0.012,"y":-0.933},{"q":"U","x":0.023,"y":-1.09},{"q":"U","x":0.001,"y":-0.027},{"q":"U","x":-0.004,"y":0.091},{"q":"U","x":0.004,"y":-0.145},{"q":"U","x":0.009,"y":-0.302},{"q":"U","x":-0.06,"y":0.85},{"q":"U","x":-0.03,"y":0.3},{"q":"U","x":0.03,"y":0.2},{"q":"U","x":0.04,"y":-0.05},{"q":"U","x":0.015,"y":-0.45},{"q":"U","x":-0.015,"y":-0.55},{"q":"U","x":0.065,"y":-0.45},{"q":"U","x":0.045,"y":0.55},{"q":"U","x":-0.04,"y":0.4},{"q":"U","x":0.02,"y":0.5},{"q":"U","x":-0.005,"y":-0.7},{"q":"U","x":0.07,"y":0.25},{"q":"U","x":0.005,"y":0.35},{"q":"U","x":-0.045,"y":-0.8},
{"q":"U","x":-0.055,"y":0.6},{"q":"U","x":-0.035,"y":0.95},{"q":"U","x":-0.02,"y":0.85},{"q":"U","x":0.0,"y":0.75},{"q":"U","x":0.025,"y":0.65},{"q":"U","x":0.035,"y":0.35},{"q":"U","x":-0.045,"y":0.2},{"q":"U","x":-0.025,"y":0.05},{"q":"U","x":0.015,"y":0.05},{"q":"U","x":0.03,"y":-0.15},{"q":"U","x":0.055,"y":-0.2},{"q":"U","x":-0.03,"y":-0.45},{"q":"U","x":-0.05,"y":-0.6},{"q":"U","x":0.0,"y":-0.85},{"q":"U","x":0.02,"y":-0.95},{"q":"U","x":0.035,"y":-0.75},{"q":"U","x":0.065,"y":-0.1},{"q":"U","x":0.06,"y":0.55},{"q":"U","x":-0.01,"y":0.45},{"q":"U","x":0.01,"y":-0.45},
{"q":"D","x":0.03,"y":-0.8},{"q":"D","x":0.05,"y":-1.05},{"q":"D","x":-0.02,"y":-0.5},{"q":"D","x":0.01,"y":-0.6},{"q":"D","x":0.06,"y":-0.7},{"q":"D","x":-0.035,"y":-0.35},{"q":"D","x":0.02,"y":-0.25},{"q":"D","x":0.04,"y":-0.3},{"q":"D","x":-0.01,"y":0.2},{"q":"D","x":0.08,"y":-0.55},{"q":"D","x":0.045,"y":-0.9},{"q":"D","x":-0.05,"y":-0.1},{"q":"D","x":0.0,"y":-1.2},{"q":"D","x":-0.045,"y":-0.5},{"q":"D","x":-0.025,"y":-0.65},{"q":"D","x":0.015,"y":-0.35},{"q":"D","x":0.055,"y":-0.45},{"q":"D","x":0.07,"y":-0.6},{"q":"D","x":0.025,"y":-1.15},{"q":"D","x":-0.04,"y":-0.25},
{"q":"C","x":0.032,"y":0.996},{"q":"C","x":0.079,"y":0.799},{"q":"C","x":0.01,"y":0.6},{"q":"C","x":0.03,"y":0.4},{"q":"C","x":0.05,"y":-0.4},{"q":"C","x":0.02,"y":-0.7},{"q":"C","x":-0.02,"y":0.3},{"q":"C","x":0.07,"y":-0.8},{"q":"C","x":0.04,"y":0.8},{"q":"C","x":0.06,"y":0.65},{"q":"C","x":0.025,"y":-0.35},{"q":"C","x":0.065,"y":0.35},
{"q":"CC","x":-0.01,"y":0.7},{"q":"CC","x":0.02,"y":0.3},{"q":"CC","x":0.03,"y":-0.5},{"q":"CC","x":0.045,"y":-0.7},{"q":"CC","x":-0.03,"y":0.1}
],
"pB": [
{"q":"U","x":-0.144,"y":1.106},{"q":"U","x":-0.139,"y":1.032},{"q":"U","x":-0.128,"y":0.984},{"q":"U","x":-0.136,"y":0.933},{"q":"U","x":-0.1,"y":1.13},{"q":"U","x":-0.088,"y":0.933},{"q":"U","x":-0.076,"y":1.177},{"q":"U","x":-0.118,"y":0.784},{"q":"U","x":-0.092,"y":0.508},{"q":"U","x":-0.09,"y":-0.322},{"q":"U","x":-0.074,"y":-0.578},{"q":"U","x":-0.055,"y":0.106},{"q":"U","x":0.097,"y":-0.255},{"q":"U","x":0.092,"y":-0.444},{"q":"U","x":0.119,"y":-1.161},{"q":"U","x":0.049,"y":1.02},
{"q":"D","x":-0.115,"y":0.677},{"q":"D","x":-0.127,"y":0.138},{"q":"D","x":-0.118,"y":-0.149},{"q":"D","x":-0.104,"y":0.138},{"q":"D","x":-0.104,"y":-0.307},{"q":"D","x":-0.089,"y":0.421},{"q":"D","x":-0.084,"y":0.689},{"q":"D","x":-0.066,"y":0.224},{"q":"D","x":-0.058,"y":-0.987},{"q":"D","x":-0.06,"y":-1.113},{"q":"D","x":-0.066,"y":-0.68},{"q":"D","x":-0.079,"y":0.008},{"q":"D","x":0.07,"y":1.248},{"q":"D","x":0.12,"y":0.531},{"q":"D","x":0.135,"y":0.067},{"q":"D","x":0.154,"y":-0.609},{"q":"D","x":0.172,"y":-0.983},{"q":"D","x":0.104,"y":-0.621},{"q":"D","x":0.114,"y":-0.822},{"q":"D","x":0.079,"y":-1.566},{"q":"D","x":0.062,"y":-1.429},{"q":"D","x":0.032,"y":-1.495},
{"q":"C","x":0.078,"y":0.855},{"q":"CC","x":0.087,"y":0.874},
{"q":"U","x":-0.054,"y":0.917},{"q":"U","x":-0.044,"y":0.878},{"q":"U","x":-0.05,"y":0.661},{"q":"U","x":-0.046,"y":0.524},{"q":"U","x":-0.025,"y":0.74},{"q":"U","x":-0.011,"y":0.583},{"q":"U","x":-0.003,"y":0.642},{"q":"U","x":0.012,"y":0.976},{"q":"U","x":0.055,"y":0.996},{"q":"U","x":0.052,"y":0.425},{"q":"U","x":0.059,"y":0.366},{"q":"U","x":0.063,"y":0.091},{"q":"U","x":0.049,"y":-0.145},{"q":"U","x":0.06,"y":-0.342},{"q":"U","x":0.036,"y":-0.46},{"q":"U","x":0.025,"y":-0.579},{"q":"U","x":0.041,"y":-0.618},{"q":"U","x":0.055,"y":-0.579},{"q":"U","x":0.074,"y":-0.656},{"q":"U","x":-0.025,"y":-0.775},{"q":"U","x":-0.039,"y":-0.579},{"q":"U","x":-0.05,"y":-0.381},{"q":"U","x":-0.036,"y":-0.224},{"q":"U","x":-0.02,"y":-0.302},{"q":"U","x":-0.012,"y":-0.933},{"q":"U","x":0.023,"y":-1.09},{"q":"U","x":0.001,"y":-0.027},{"q":"U","x":-0.004,"y":0.091},{"q":"U","x":0.004,"y":-0.145},{"q":"U","x":0.009,"y":-0.302},{"q":"U","x":-0.06,"y":0.85},{"q":"U","x":-0.03,"y":0.3},{"q":"U","x":0.03,"y":0.2},{"q":"U","x":0.04,"y":-0.05},{"q":"U","x":0.015,"y":-0.45},{"q":"U","x":-0.015,"y":-0.55},{"q":"U","x":0.065,"y":-0.45},{"q":"U","x":0.045,"y":0.55},{"q":"U","x":-0.04,"y":0.4},{"q":"U","x":0.02,"y":0.5},{"q":"U","x":-0.005,"y":-0.7},{"q":"U","x":0.07,"y":0.25},{"q":"U","x":0.005,"y":0.35},{"q":"U","x":-0.045,"y":-0.8},
{"q":"U","x":-0.055,"y":0.6},{"q":"U","x":-0.035,"y":0.95},{"q":"U","x":-0.02,"y":0.85},{"q":"U","x":0.0,"y":0.75},{"q":"U","x":0.025,"y":0.65},{"q":"U","x":0.035,"y":0.35},{"q":"U","x":-0.045,"y":0.2},{"q":"U","x":-0.025,"y":0.05},{"q":"U","x":0.015,"y":0.05},{"q":"U","x":0.03,"y":-0.15},{"q":"U","x":0.055,"y":-0.2},{"q":"U","x":-0.03,"y":-0.45},{"q":"U","x":-0.05,"y":-0.6},{"q":"U","x":0.0,"y":-0.85},{"q":"U","x":0.02,"y":-0.95},{"q":"U","x":0.035,"y":-0.75},{"q":"U","x":0.065,"y":-0.1},{"q":"U","x":0.06,"y":0.55},{"q":"U","x":-0.01,"y":0.45},{"q":"U","x":0.01,"y":-0.45},
{"q":"D","x":0.03,"y":-0.8},{"q":"D","x":0.05,"y":-1.05},{"q":"D","x":-0.02,"y":-0.5},{"q":"D","x":0.01,"y":-0.6},{"q":"D","x":0.06,"y":-0.7},{"q":"D","x":-0.035,"y":-0.35},{"q":"D","x":0.02,"y":-0.25},{"q":"D","x":0.04,"y":-0.3},{"q":"D","x":-0.01,"y":0.2},{"q":"D","x":0.08,"y":-0.55},{"q":"D","x":0.045,"y":-0.9},{"q":"D","x":-0.05,"y":-0.1},{"q":"D","x":0.0,"y":-1.2},{"q":"D","x":-0.045,"y":-0.5},{"q":"D","x":-0.025,"y":-0.65},{"q":"D","x":0.015,"y":-0.35},{"q":"D","x":0.055,"y":-0.45},{"q":"D","x":0.07,"y":-0.6},{"q":"D","x":0.025,"y":-1.15},{"q":"D","x":-0.04,"y":-0.25},
{"q":"C","x":0.032,"y":0.996},{"q":"C","x":0.079,"y":0.799},{"q":"C","x":0.01,"y":0.6},{"q":"C","x":0.03,"y":0.4},{"q":"C","x":0.05,"y":-0.4},{"q":"C","x":0.02,"y":-0.7},{"q":"C","x":-0.02,"y":0.3},{"q":"C","x":0.07,"y":-0.8},{"q":"C","x":0.04,"y":0.8},{"q":"C","x":0.06,"y":0.65},{"q":"C","x":0.025,"y":-0.35},{"q":"C","x":0.065,"y":0.35},
{"q":"CC","x":-0.01,"y":0.7},{"q":"CC","x":0.02,"y":0.3},{"q":"CC","x":0.03,"y":-0.5},{"q":"CC","x":0.045,"y":-0.7},{"q":"CC","x":-0.03,"y":0.1}
],
"pC": [
{"q":"U","x":-0.128,"y":1.606},{"q":"U","x":-0.082,"y":1.397},{"q":"U","x":-0.05,"y":1.122},{"q":"U","x":-0.019,"y":1.152},{"q":"U","x":-0.124,"y":0.877},{"q":"U","x":-0.108,"y":0.838},{"q":"U","x":-0.1,"y":0.818},{"q":"U","x":-0.075,"y":0.779},{"q":"U","x":-0.075,"y":0.621},{"q":"U","x":-0.036,"y":0.759},{"q":"U","x":-0.051,"y":0.385},{"q":"U","x":-0.025,"y":0.916},{"q":"U","x":-0.146,"y":-0.224},{"q":"U","x":-0.099,"y":-1.071},{"q":"U","x":0.184,"y":1.329},{"q":"U","x":0.17,"y":0.767},{"q":"U","x":0.168,"y":0.751},{"q":"U","x":0.122,"y":0.295},{"q":"U","x":0.106,"y":-0.453},{"q":"U","x":0.063,"y":-0.933},
{"q":"D","x":-0.153,"y":1.133},{"q":"D","x":-0.158,"y":0.975},{"q":"D","x":-0.116,"y":0.727},{"q":"D","x":-0.091,"y":0.555},{"q":"D","x":-0.062,"y":0.425},{"q":"D","x":-0.073,"y":0.295},{"q":"D","x":-0.146,"y":-0.126},{"q":"D","x":-0.132,"y":-0.548},{"q":"D","x":-0.148,"y":-0.894},{"q":"D","x":-0.162,"y":-1.122},{"q":"D","x":-0.146,"y":-1.555},{"q":"D","x":-0.103,"y":-1.327},{"q":"D","x":-0.062,"y":-1.209},{"q":"D","x":-0.06,"y":-1.11},{"q":"D","x":-0.119,"y":-1.15},{"q":"D","x":0.112,"y":-0.729},{"q":"D","x":0.165,"y":-0.874},{"q":"D","x":0.179,"y":0.208},{"q":"D","x":0.075,"y":-0.649},
{"q":"C","x":-0.076,"y":-1.24},{"q":"C","x":0.169,"y":0.09},{"q":"C","x":0.1,"y":-0.54},
{"q":"U","x":-0.03,"y":0.3},{"q":"U","x":-0.01,"y":0.6},{"q":"U","x":0.01,"y":0.75},{"q":"U","x":0.03,"y":0.8},{"q":"U","x":0.05,"y":0.7},{"q":"U","x":0.07,"y":0.55},{"q":"U","x":0.09,"y":0.45},{"q":"U","x":0.11,"y":0.3},{"q":"U","x":0.125,"y":0.25},{"q":"U","x":0.06,"y":0.3},{"q":"U","x":0.04,"y":0.45},{"q":"U","x":0.02,"y":0.2},{"q":"U","x":-0.02,"y":-0.1},{"q":"U","x":-0.05,"y":-0.3},{"q":"U","x":-0.08,"y":-0.4},{"q":"U","x":-0.1,"y":-0.5},{"q":"U","x":-0.07,"y":-0.6},{"q":"U","x":-0.04,"y":-0.5},{"q":"U","x":0.0,"y":-0.4},{"q":"U","x":0.03,"y":-0.3},{"q":"U","x":0.05,"y":-0.1},{"q":"U","x":0.07,"y":0.1},{"q":"U","x":-0.015,"y":0.0},{"q":"U","x":0.01,"y":-0.15},{"q":"U","x":-0.06,"y":-0.15},{"q":"U","x":0.08,"y":-0.3},{"q":"U","x":0.09,"y":0.2},{"q":"U","x":0.0,"y":0.45},{"q":"U","x":-0.045,"y":-0.7},{"q":"U","x":0.02,"y":-0.55},{"q":"U","x":-0.11,"y":-0.3},{"q":"U","x":0.1,"y":0.6},{"q":"U","x":0.065,"y":0.85},{"q":"U","x":-0.09,"y":-0.15},
{"q":"U","x":-0.065,"y":0.45},{"q":"U","x":0.015,"y":0.55},{"q":"U","x":0.085,"y":0.65},{"q":"U","x":0.045,"y":0.15},{"q":"U","x":-0.03,"y":-0.3},{"q":"U","x":-0.085,"y":-0.55},{"q":"U","x":0.035,"y":-0.45},{"q":"U","x":0.075,"y":-0.05},{"q":"U","x":-0.005,"y":0.25},{"q":"U","x":0.115,"y":0.45},{"q":"U","x":-0.12,"y":-0.45},{"q":"U","x":0.055,"y":0.85},
{"q":"D","x":-0.12,"y":-0.5},{"q":"D","x":-0.09,"y":-0.75},{"q":"D","x":-0.06,"y":-0.9},{"q":"D","x":-0.02,"y":-0.7},{"q":"D","x":0.01,"y":-0.6},{"q":"D","x":0.04,"y":-0.5},{"q":"D","x":0.06,"y":-0.3},{"q":"D","x":-0.04,"y":0.1},{"q":"D","x":0.02,"y":0.35},{"q":"D","x":-0.1,"y":-0.9},{"q":"D","x":-0.13,"y":-0.8},{"q":"D","x":0.03,"y":-0.1},{"q":"D","x":-0.08,"y":-0.35},{"q":"D","x":-0.035,"y":-0.85},{"q":"D","x":0.05,"y":-0.6},{"q":"D","x":0.0,"y":0.05},
{"q":"C","x":0.05,"y":0.5},{"q":"C","x":0.08,"y":0.2},{"q":"C","x":0.02,"y":0.1},{"q":"C","x":-0.03,"y":-0.4},{"q":"C","x":0.0,"y":-0.3},{"q":"C","x":0.06,"y":-0.2},{"q":"C","x":-0.05,"y":-0.55},{"q":"C","x":0.04,"y":0.3},{"q":"C","x":0.1,"y":0.05},{"q":"C","x":0.07,"y":0.4},{"q":"C","x":-0.01,"y":-0.45},{"q":"C","x":0.03,"y":0.5},
{"q":"CC","x":0.06,"y":0.45},{"q":"CC","x":0.09,"y":0.3},{"q":"CC","x":-0.07,"y":-0.5},{"q":"CC","x":0.03,"y":0.15},{"q":"CC","x":-0.02,"y":-0.6},{"q":"CC","x":0.07,"y":0.0}
]
},
"vconcat": [
{
 "width": 471, "height": 274,
 "title": {"text": "A", "dx": -78, "dy": 9.3, "offset": -24.3, "baseline": "alphabetic"},
 "resolve": {"axis": {"x": "independent", "y": "independent"}},
 "layer": [
  {"data": {"name": "pA"}, "mark": {"type": "circle", "size": 14, "opacity": 0.3, "clip": true},
   "encoding": {
    "x": {"field": "x", "type": "quantitative", "scale": {"domain": [-0.164, 0.214], "nice": false, "zero": false},
      "axis": {"orient": "bottom", "values": [-0.15, -0.1, -0.05, 0, 0.05, 0.1, 0.15, 0.2], "labelExpr": "(datum.value < -1e-9 ? '-' : '') + format(abs(datum.value), '.2f')", "title": "Δ", "titleX": 191.3, "titleY": 60.3, "titleAlign": "left", "titleBaseline": "alphabetic", "titleAngle": 0, "titleFontSize": 24}},
    "y": {"field": "y", "type": "quantitative", "scale": {"domain": [-1.617, 1.617], "nice": false, "zero": false},
      "axis": {"orient": "left", "values": [-1.5, -1, -0.5, 0, 0.5, 1, 1.5], "labelExpr": "(datum.value < -1e-9 ? '-' : '') + format(abs(datum.value), '.1f')", "title": "Δ", "titleX": -70.2, "titleY": 166.3, "titleAlign": "left", "titleBaseline": "alphabetic", "titleAngle": -90, "titleFontSize": 24}},
    "color": {"field": "q", "type": "nominal", "scale": {"range": ["#3d6db5", "#26a47c", "#f2b519", "#7b3f9e"]}, "legend": null}
   }},
  {"data": {"name": "cA"}, "mark": {"type": "line", "interpolate": "cardinal-closed", "strokeWidth": 1.3, "clip": true},
   "encoding": {
    "x": {"field": "x", "type": "quantitative", "scale": {"domain": [-0.164, 0.214], "nice": false, "zero": false},
      "axis": {"orient": "bottom", "labels": false, "ticks": false, "domain": false, "grid": false, "title": "∞, CL", "titleX": 223.5, "titleY": 63.3, "titleAlign": "left", "titleBaseline": "alphabetic", "titleAngle": 0, "titleFontSize": 17}},
    "y": {"field": "y", "type": "quantitative", "scale": {"domain": [-1.617, 1.617], "nice": false, "zero": false},
      "axis": {"orient": "left", "labels": false, "ticks": false, "domain": false, "grid": false, "title": "CL", "titleX": -59.4, "titleY": 131.3, "titleAlign": "left", "titleBaseline": "alphabetic", "titleAngle": -90, "titleFontSize": 17}},
    "detail": {"field": "s"},
    "order": {"value": null},
    "fill": {"field": "g", "type": "nominal", "scale": {"domain": ["U", "CC", "C", "D"], "range": ["#7b3f9e", "#26a47c", "#3d6db5", "#f2b519"]},
      "legend": {"orient": "none", "legendX": 338, "legendY": 9.6, "title": null, "symbolType": "square", "symbolSize": 200, "symbolStrokeWidth": 1.5, "labelFontSize": 13, "labelColor": "#222", "labelOffset": 5, "rowPadding": 1.5, "padding": 0,
        "labelExpr": "datum.label == 'U' ? 'Upstream' : datum.label == 'CC' ? 'Creek confluence' : datum.label == 'C' ? 'Creek' : 'Downstream'",
        "encode": {"symbols": {"update": {"fillOpacity": {"value": 0.45}, "strokeOpacity": {"value": 1}, "opacity": {"value": 1}}}}}},
    "stroke": {"field": "g", "type": "nominal", "scale": {"domain": ["U", "CC", "C", "D"], "range": ["#7b3f9e", "#26a47c", "#3d6db5", "#f2b519"]},
      "legend": {"orient": "none", "legendX": 338, "legendY": 9.6, "title": null, "symbolType": "square", "symbolSize": 200, "symbolStrokeWidth": 1.5, "labelFontSize": 13, "labelColor": "#222", "labelOffset": 5, "rowPadding": 1.5, "padding": 0,
        "labelExpr": "datum.label == 'U' ? 'Upstream' : datum.label == 'CC' ? 'Creek confluence' : datum.label == 'C' ? 'Creek' : 'Downstream'",
        "encode": {"symbols": {"update": {"fillOpacity": {"value": 0.45}, "strokeOpacity": {"value": 1}, "opacity": {"value": 1}}}}}},
    "fillOpacity": {"condition": {"test": "datum.l == 'i'", "value": 0.45}, "value": 0.1},
    "strokeOpacity": {"condition": {"test": "datum.l == 'i' && datum.g != 'D'", "value": 0.3}, "value": 1}
   }},
  {"mark": {"type": "rule", "strokeDash": [2, 3], "color": "#444", "strokeWidth": 1.3},
   "encoding": {"x": {"datum": 0, "type": "quantitative", "scale": {"domain": [-0.164, 0.214], "nice": false, "zero": false},
      "axis": {"orient": "bottom", "labels": false, "ticks": false, "domain": false, "grid": false, "title": "L", "titleFontStyle": "italic", "titleX": 207.3, "titleY": 60.3, "titleAlign": "left", "titleBaseline": "alphabetic", "titleAngle": 0, "titleFontSize": 24}}}},
  {"mark": {"type": "rule", "strokeDash": [2, 3], "color": "#444", "strokeWidth": 1.3},
   "encoding": {"y": {"datum": 0, "type": "quantitative", "scale": {"domain": [-1.617, 1.617], "nice": false, "zero": false},
      "axis": {"orient": "left", "labels": false, "ticks": false, "domain": false, "grid": false, "title": "k", "titleFontStyle": "italic", "titleX": -70.2, "titleY": 150.3, "titleAlign": "left", "titleBaseline": "alphabetic", "titleAngle": -90, "titleFontSize": 24}}}}
 ]
},
{
 "width": 471, "height": 274,
 "title": {"text": "B", "dx": -78, "dy": 9.3, "offset": -24.3, "baseline": "alphabetic"},
 "resolve": {"axis": {"x": "independent", "y": "independent"}},
 "layer": [
  {"data": {"name": "pB"}, "mark": {"type": "circle", "size": 14, "opacity": 0.3, "clip": true},
   "encoding": {
    "x": {"field": "x", "type": "quantitative", "scale": {"domain": [-0.164, 0.214], "nice": false, "zero": false},
      "axis": {"orient": "bottom", "values": [-0.15, -0.1, -0.05, 0, 0.05, 0.1, 0.15, 0.2], "labelExpr": "(datum.value < -1e-9 ? '-' : '') + format(abs(datum.value), '.2f')", "title": "Δ", "titleX": 191.3, "titleY": 60.3, "titleAlign": "left", "titleBaseline": "alphabetic", "titleAngle": 0, "titleFontSize": 24}},
    "y": {"field": "y", "type": "quantitative", "scale": {"domain": [-1.617, 1.617], "nice": false, "zero": false},
      "axis": {"orient": "left", "values": [-1.5, -1, -0.5, 0, 0.5, 1, 1.5], "labelExpr": "(datum.value < -1e-9 ? '-' : '') + format(abs(datum.value), '.1f')", "title": "Δ", "titleX": -70.2, "titleY": 166.3, "titleAlign": "left", "titleBaseline": "alphabetic", "titleAngle": -90, "titleFontSize": 24}},
    "color": {"field": "q", "type": "nominal", "scale": {"range": ["#3d6db5", "#26a47c", "#f2b519", "#7b3f9e"]}, "legend": null}
   }},
  {"data": {"name": "cB"}, "mark": {"type": "line", "interpolate": "cardinal-closed", "strokeWidth": 1.3, "clip": true},
   "encoding": {
    "x": {"field": "x", "type": "quantitative", "scale": {"domain": [-0.164, 0.214], "nice": false, "zero": false},
      "axis": {"orient": "bottom", "labels": false, "ticks": false, "domain": false, "grid": false, "title": "∞, PL", "titleX": 223.5, "titleY": 63.3, "titleAlign": "left", "titleBaseline": "alphabetic", "titleAngle": 0, "titleFontSize": 17}},
    "y": {"field": "y", "type": "quantitative", "scale": {"domain": [-1.617, 1.617], "nice": false, "zero": false},
      "axis": {"orient": "left", "labels": false, "ticks": false, "domain": false, "grid": false, "title": "PL", "titleX": -59.4, "titleY": 131.3, "titleAlign": "left", "titleBaseline": "alphabetic", "titleAngle": -90, "titleFontSize": 17}},
    "detail": {"field": "s"},
    "order": {"value": null},
    "fill": {"field": "g", "type": "nominal", "scale": {"domain": ["U", "CC", "C", "D"], "range": ["#7b3f9e", "#26a47c", "#3d6db5", "#f2b519"]}, "legend": null},
    "stroke": {"field": "g", "type": "nominal", "scale": {"domain": ["U", "CC", "C", "D"], "range": ["#7b3f9e", "#26a47c", "#3d6db5", "#f2b519"]}, "legend": null},
    "fillOpacity": {"condition": {"test": "datum.l == 'i'", "value": 0.45}, "value": 0.1},
    "strokeOpacity": {"condition": {"test": "datum.l == 'i' && datum.g != 'D'", "value": 0.3}, "value": 1}
   }},
  {"mark": {"type": "rule", "strokeDash": [2, 3], "color": "#444", "strokeWidth": 1.3},
   "encoding": {"x": {"datum": 0, "type": "quantitative", "scale": {"domain": [-0.164, 0.214], "nice": false, "zero": false},
      "axis": {"orient": "bottom", "labels": false, "ticks": false, "domain": false, "grid": false, "title": "L", "titleFontStyle": "italic", "titleX": 207.3, "titleY": 60.3, "titleAlign": "left", "titleBaseline": "alphabetic", "titleAngle": 0, "titleFontSize": 24}}}},
  {"mark": {"type": "rule", "strokeDash": [2, 3], "color": "#444", "strokeWidth": 1.3},
   "encoding": {"y": {"datum": 0, "type": "quantitative", "scale": {"domain": [-1.617, 1.617], "nice": false, "zero": false},
      "axis": {"orient": "left", "labels": false, "ticks": false, "domain": false, "grid": false, "title": "k", "titleFontStyle": "italic", "titleX": -70.2, "titleY": 150.3, "titleAlign": "left", "titleBaseline": "alphabetic", "titleAngle": -90, "titleFontSize": 24}}}}
 ]
},
{
 "width": 471, "height": 274,
 "title": {"text": "C", "dx": -78, "dy": 9.3, "offset": -24.3, "baseline": "alphabetic"},
 "resolve": {"axis": {"x": "independent", "y": "independent"}},
 "layer": [
  {"data": {"name": "pC"}, "mark": {"type": "circle", "size": 14, "opacity": 0.3, "clip": true},
   "encoding": {
    "x": {"field": "x", "type": "quantitative", "scale": {"domain": [-0.164, 0.214], "nice": false, "zero": false},
      "axis": {"orient": "bottom", "values": [-0.15, -0.1, -0.05, 0, 0.05, 0.1, 0.15, 0.2], "labelExpr": "(datum.value < -1e-9 ? '-' : '') + format(abs(datum.value), '.2f')", "title": "Δ", "titleX": 191.3, "titleY": 60.3, "titleAlign": "left", "titleBaseline": "alphabetic", "titleAngle": 0, "titleFontSize": 24}},
    "y": {"field": "y", "type": "quantitative", "scale": {"domain": [-1.617, 1.617], "nice": false, "zero": false},
      "axis": {"orient": "left", "values": [-1.5, -1, -0.5, 0, 0.5, 1, 1.5], "labelExpr": "(datum.value < -1e-9 ? '-' : '') + format(abs(datum.value), '.1f')", "title": "Δ", "titleX": -70.2, "titleY": 166.3, "titleAlign": "left", "titleBaseline": "alphabetic", "titleAngle": -90, "titleFontSize": 24}},
    "color": {"field": "q", "type": "nominal", "scale": {"range": ["#3d6db5", "#26a47c", "#f2b519", "#7b3f9e"]}, "legend": null}
   }},
  {"data": {"name": "cC"}, "mark": {"type": "line", "interpolate": "cardinal-closed", "strokeWidth": 1.3, "clip": true},
   "encoding": {
    "x": {"field": "x", "type": "quantitative", "scale": {"domain": [-0.164, 0.214], "nice": false, "zero": false},
      "axis": {"orient": "bottom", "labels": false, "ticks": false, "domain": false, "grid": false, "title": "∞, BD", "titleX": 223.5, "titleY": 63.3, "titleAlign": "left", "titleBaseline": "alphabetic", "titleAngle": 0, "titleFontSize": 17}},
    "y": {"field": "y", "type": "quantitative", "scale": {"domain": [-1.617, 1.617], "nice": false, "zero": false},
      "axis": {"orient": "left", "labels": false, "ticks": false, "domain": false, "grid": false, "title": "BD", "titleX": -59.4, "titleY": 131.3, "titleAlign": "left", "titleBaseline": "alphabetic", "titleAngle": -90, "titleFontSize": 17}},
    "detail": {"field": "s"},
    "order": {"value": null},
    "fill": {"field": "g", "type": "nominal", "scale": {"domain": ["U", "CC", "C", "D"], "range": ["#7b3f9e", "#26a47c", "#3d6db5", "#f2b519"]}, "legend": null},
    "stroke": {"field": "g", "type": "nominal", "scale": {"domain": ["U", "CC", "C", "D"], "range": ["#7b3f9e", "#26a47c", "#3d6db5", "#f2b519"]}, "legend": null},
    "fillOpacity": {"condition": {"test": "datum.l == 'i'", "value": 0.45}, "value": 0.1},
    "strokeOpacity": {"condition": {"test": "datum.l == 'i' && datum.g != 'D'", "value": 0.3}, "value": 1}
   }},
  {"mark": {"type": "rule", "strokeDash": [2, 3], "color": "#444", "strokeWidth": 1.3},
   "encoding": {"x": {"datum": 0, "type": "quantitative", "scale": {"domain": [-0.164, 0.214], "nice": false, "zero": false},
      "axis": {"orient": "bottom", "labels": false, "ticks": false, "domain": false, "grid": false, "title": "L", "titleFontStyle": "italic", "titleX": 207.3, "titleY": 60.3, "titleAlign": "left", "titleBaseline": "alphabetic", "titleAngle": 0, "titleFontSize": 24}}}},
  {"mark": {"type": "rule", "strokeDash": [2, 3], "color": "#444", "strokeWidth": 1.3},
   "encoding": {"y": {"datum": 0, "type": "quantitative", "scale": {"domain": [-1.617, 1.617], "nice": false, "zero": false},
      "axis": {"orient": "left", "labels": false, "ticks": false, "domain": false, "grid": false, "title": "k", "titleFontStyle": "italic", "titleX": -70.2, "titleY": 150.3, "titleAlign": "left", "titleBaseline": "alphabetic", "titleAngle": -90, "titleFontSize": 24}}}}
 ]
}
],
"spacing": 94.3,
"bounds": "flush",
"resolve": {"scale": {"fill": "independent", "stroke": "independent", "color": "independent"}, "legend": {"fill": "independent", "stroke": "independent", "color": "independent"}}
}
